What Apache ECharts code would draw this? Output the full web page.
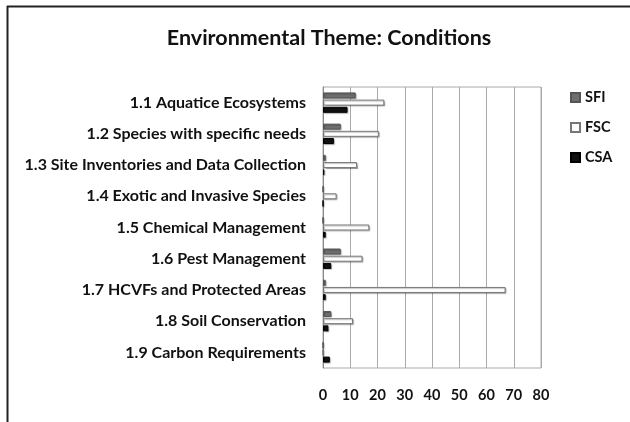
<!DOCTYPE html>
<html>
<head>
<meta charset="utf-8">
<script src="https://cdn.jsdelivr.net/npm/echarts@6.0.0/dist/echarts.min.js"></script>
<style>
  html, body { margin: 0; padding: 0; background: #fff; }
  #chart { width: 630px; height: 422px; }
</style>
</head>
<body>
<div id="chart"></div>
<script>
// 类目与数值
const categories = [
    '1.1 Aquatice Ecosystems',
    '1.2 Species with specific needs',
    '1.3 Site Inventories and Data Collection',
    '1.4 Exotic and Invasive Species',
    '1.5 Chemical Management',
    '1.6 Pest Management',
    '1.7 HCVFs and Protected Areas',
    '1.8 Soil Conservation',
    '1.9 Carbon Requirements'
];
const sfiValues = [12, 6.5, 1, 0, 0, 6.5, 1, 3, 0];
const fscValues = [22.5, 20.5, 12.5, 5, 17, 14.5, 67, 11, 0];
const cscValues = [9, 4, 0.5, 0, 1, 3, 1, 2, 2.5];
const xTicks = { min: 0, max: 80, interval: 10 };

const FONT = 'Lato, "Open Sans", sans-serif';

const chart = echarts.init(document.getElementById('chart'));

const barStyle = (fill, border) => ({
    color: fill,
    borderColor: border,
    borderWidth: 1,
    shadowColor: 'rgba(0,0,0,0.25)',
    shadowOffsetX: 1,
    shadowOffsetY: 1,
    shadowBlur: 1
});

chart.setOption({
    animation: false,
    backgroundColor: '#fff',
    title: {
        text: 'Environmental Theme: Conditions',
        left: 324,
        textAlign: 'center',
        top: 22,
        textStyle: { fontFamily: FONT, fontWeight: 'bold', fontSize: 21.5, color: '#111' }
    },
    legend: {
        orient: 'vertical',
        left: 565,
        top: 85,
        icon: 'rect',
        itemWidth: 9,
        itemHeight: 9,
        itemGap: 15,
        textStyle: { fontFamily: FONT, fontWeight: 'bold', fontSize: 14.5, color: '#111' },
        data: ['SFI', 'FSC', 'CSA']
    },
    grid: {
        left: 323,
        right: 89,
        top: 87,
        height: 281,
        show: true,
        borderColor: '#aaa',
        borderWidth: 1
    },
    xAxis: {
        type: 'value',
        min: xTicks.min,
        max: xTicks.max,
        interval: xTicks.interval,
        axisLine: { show: false },
        axisTick: { show: false },
        splitLine: { lineStyle: { color: '#aaa', width: 1 } },
        axisLabel: { fontFamily: FONT, fontWeight: 'bold', fontSize: 14.5, color: '#111', margin: 20 }
    },
    yAxis: {
        type: 'category',
        inverse: true,
        data: categories,
        axisLine: { lineStyle: { color: '#888' } },
        axisTick: { show: false },
        axisLabel: { fontFamily: FONT, fontWeight: 'bold', fontSize: 16, color: '#111', margin: 17 }
    },
    series: [
        {
            name: 'SFI', type: 'bar', data: sfiValues,
            barWidth: 6, barGap: '20%',
            itemStyle: barStyle('#6e6e6e', '#555')
        },
        {
            name: 'FSC', type: 'bar', data: fscValues,
            barWidth: 6, barGap: '20%',
            itemStyle: barStyle('#ffffff', '#777')
        },
        {
            name: 'CSA', type: 'bar', data: cscValues,
            barWidth: 6, barGap: '20%',
            itemStyle: barStyle('#111111', '#000')
        }
    ],
    graphic: [
        { type: 'line', shape: { x1: 7, y1: 6.5, x2: 630, y2: 6.5 }, style: { stroke: '#222', lineWidth: 2 } },
        { type: 'line', shape: { x1: 7.5, y1: 6, x2: 7.5, y2: 422 }, style: { stroke: '#222', lineWidth: 2 } }
    ]
});
</script>
</body>
</html>
